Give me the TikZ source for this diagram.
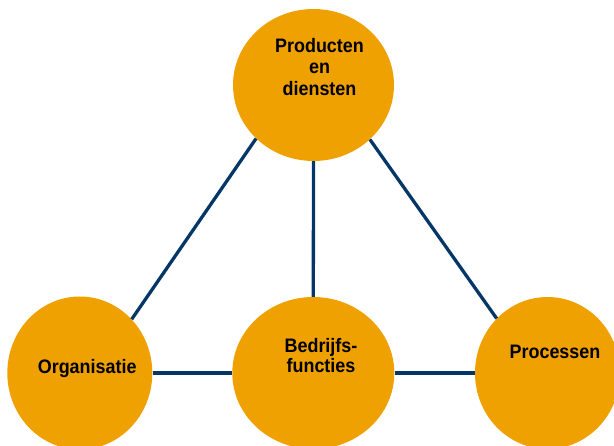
\documentclass[tikz,border=0pt]{standalone}
\usepackage{fontspec}
\setmainfont{Liberation Sans}[FakeStretch=0.92]
\usetikzlibrary{shapes.geometric}
\definecolor{disc}{RGB}{240,161,2}
\definecolor{navy}{RGB}{4,54,104}
\tikzset{
  blob/.style={ellipse, fill=disc, draw=none, inner sep=0pt},
  link/.style={draw=navy, line width=3.3pt},
  lbl/.style={inner sep=0pt, align=center, text=black, font=\bfseries\fontsize{19.5}{21.6}\selectfont}
}
\begin{document}
\begin{tikzpicture}[x=1pt,y=-1pt]
\useasboundingbox (0,0) rectangle (614,446);
\clip (0,0) rectangle (614,446);
\node[blob, minimum width=161pt, minimum height=152pt] (top) at (313.5,85) {};
\node[blob, minimum width=145pt, minimum height=153pt] (left) at (79.8,373) {};
\node[blob, minimum width=162pt, minimum height=152pt] (mid) at (313.3,373) {};
\node[blob, minimum width=145pt, minimum height=152pt] (right) at (547.5,373) {};
\draw[link] (top.223.7) -- (left.46);
\draw[link] (top.316.6) -- (right.133.8);
\draw[link] (top.south) -- (mid.north);
\draw[link] (left.east) -- (mid.west);
\draw[link] (mid.east) -- (right.west);
\node[lbl] (ttop) at (319.5,66.8) {Producten\\en\\diensten};
\node[lbl, font=\bfseries\fontsize{19.5}{20}\selectfont] (tmid) at (321,355.2) {Bedrijfs-\\functies};
\node[lbl, anchor=base] (tleft) at (87.2,374) {Organisatie};
\node[lbl, anchor=base] (tright) at (555,358.3) {Processen};
\end{tikzpicture}
\end{document}
